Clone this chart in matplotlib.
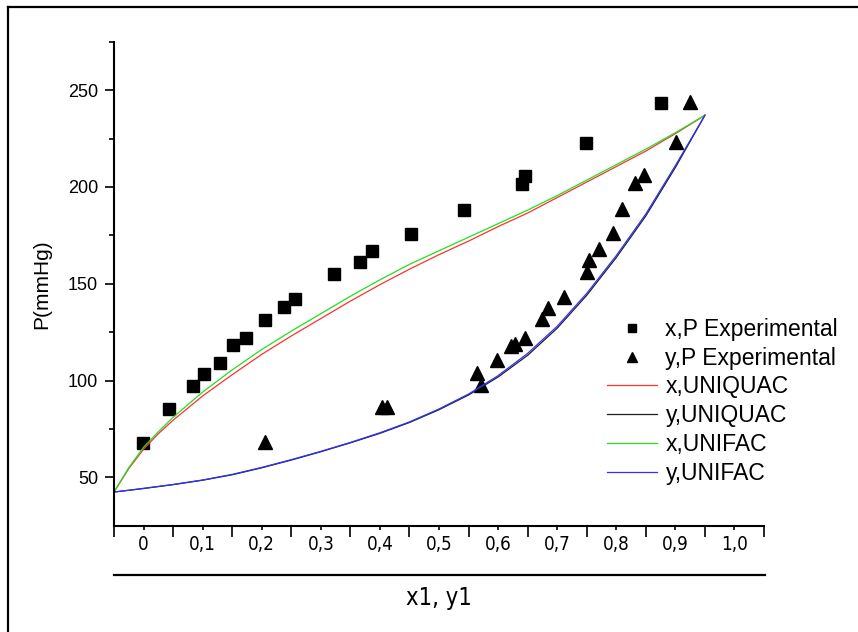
import numpy as np
import matplotlib
matplotlib.use("Agg")
import matplotlib.pyplot as plt
from matplotlib.lines import Line2D

plt.rcParams['font.family'] = ['Liberation Sans', 'DejaVu Sans']

# experimental points (x1 / y1 vs P in mmHg)
x_exp = [0.049, 0.093, 0.133, 0.152, 0.180, 0.202, 0.223, 0.256, 0.288, 0.307,
         0.373, 0.417, 0.437, 0.503, 0.592, 0.691, 0.695, 0.799, 0.926]
P_x_exp = [67.7, 85.3, 97.2, 103.4, 109.0, 118.4, 122.0, 131.3, 138.0, 142.0,
           155.0, 161.0, 167.0, 175.5, 188.0, 201.4, 205.5, 222.6, 243.3]

y_exp = [0.256, 0.454, 0.462, 0.614, 0.621, 0.648, 0.671, 0.678, 0.695, 0.725,
         0.735, 0.762, 0.801, 0.803, 0.821, 0.845, 0.860, 0.882, 0.897, 0.951, 0.975]
P_y_exp = [68.4, 86.2, 86.2, 103.8, 97.6, 110.5, 118.0, 119.0, 122.0, 132.0,
           137.6, 143.0, 156.0, 162.0, 168.0, 176.0, 188.5, 202.0, 206.0, 223.0, 244.0]

# model curves
x_mod = [0, 0.025, 0.05, 0.075, 0.1, 0.15, 0.2, 0.25, 0.3, 0.35, 0.4, 0.45, 0.5,
         0.55, 0.6, 0.65, 0.7, 0.75, 0.8, 0.85, 0.9, 0.95, 1.0]
P_x_uniquac = [42.4, 54.5, 64.5, 72.5, 79.5, 92, 103, 113.5, 123, 132, 141, 149.5, 157.5,
               165, 172, 179.5, 186.5, 194.5, 202.5, 210.5, 218.5, 227.5, 237]
P_x_unifac = [42.4, 55, 65.5, 73.5, 81, 94, 105.5, 116, 125.5, 134.5, 143.5, 152, 160,
              167, 174, 181, 188, 195.5, 203.5, 211.5, 219.5, 228, 237]
P_y_unifac = [42.4, 43.3, 44.3, 45.3, 46.3, 48.6, 51.5, 55.1, 59.1, 63.4, 68, 73, 78.6,
              85.3, 93, 102.5, 114, 128, 145, 164.5, 186, 211, 237]
P_y_uniquac = [42.4, 43.3, 44.2, 45.2, 46.2, 48.5, 51.3, 54.9, 58.9, 63.2, 67.8, 72.7, 78.3,
               84.9, 92.5, 101.8, 113, 127, 144, 163.5, 185, 210, 237]

xtick_labels = ['0', '0,1', '0,2', '0,3', '0,4', '0,5', '0,6', '0,7', '0,8', '0,9', '1,0']

fig = plt.figure(figsize=(8.58, 6.32), dpi=100)
ax = fig.add_axes([114/858, 1-525.7/632, (764-114)/858, (525.7-41.7)/632])

ax.plot(x_exp, P_x_exp, 's', color='black', ms=8, ls='none', label='x,P Experimental')
ax.plot(y_exp, P_y_exp, '^', color='black', ms=9.5, ls='none', label='y,P Experimental')
ax.plot(x_mod, P_x_uniquac, color='#ff3030', lw=0.9, label='x,UNIQUAC')
ax.plot(x_mod, P_y_uniquac, color='#202020', lw=0.9, label='y,UNIQUAC')
ax.plot(x_mod, P_x_unifac, color='#20e020', lw=0.9, label='x,UNIFAC')
ax.plot(x_mod, P_y_unifac, color='#3030ff', lw=0.9, label='y,UNIFAC')

ax.set_xlim(0, 1.1)
ax.set_ylim(25, 275)
for s in ['top', 'right']:
    ax.spines[s].set_visible(False)
for s in ['left', 'bottom']:
    ax.spines[s].set_linewidth(1.5)

narrow = dict(family=['DejaVu Sans'], fontstretch='condensed')

# x axis: long unlabeled ticks at 0.1 steps, labels sit on short ticks in between
ax.set_xticks(np.arange(0, 1.11, 0.1))
ax.set_xticklabels([])
ax.set_xticks(np.arange(0.05, 1.06, 0.1), minor=True)
ax.set_xticklabels(xtick_labels, minor=True, fontsize=13.5, **narrow)
ax.tick_params(axis='x', which='major', direction='out', length=8, width=1.2)
ax.tick_params(axis='x', which='minor', direction='out', length=3, width=1.2, pad=3.5)

ax.set_yticks([50, 100, 150, 200, 250])
ax.set_yticks([75, 125, 175, 225, 275], minor=True)
ax.tick_params(axis='y', which='major', direction='out', length=6.5, width=1.2, labelsize=13, pad=5)
ax.tick_params(axis='y', which='minor', direction='out', length=3.5, width=1.2)
ax.set_ylabel('P(mmHg)', fontsize=15, labelpad=12)

leg = ax.legend(loc='upper left', bbox_to_anchor=(607/858, 1-318/632),
                bbox_transform=fig.transFigure, frameon=False, fontsize=16.5,
                handlelength=2.2, handletextpad=0.35, labelspacing=0.25,
                borderpad=0, borderaxespad=0, markerscale=0.8)

# separator line and x label under the axis
fig.add_artist(Line2D([114/858, 765/858], [1-575/632, 1-575/632], color='black', lw=1.6))
fig.text(439/858, 1-598/632, 'x1, y1', ha='center', va='center', fontsize=17, **narrow)

# outer frame (left and top edges visible)
fig.add_artist(Line2D([8/858, 8/858], [0, 1-7/632], color='black', lw=1.6))
fig.add_artist(Line2D([8/858, 1], [1-7/632, 1-7/632], color='black', lw=1.6))

fig.savefig('out.png', dpi=100)
